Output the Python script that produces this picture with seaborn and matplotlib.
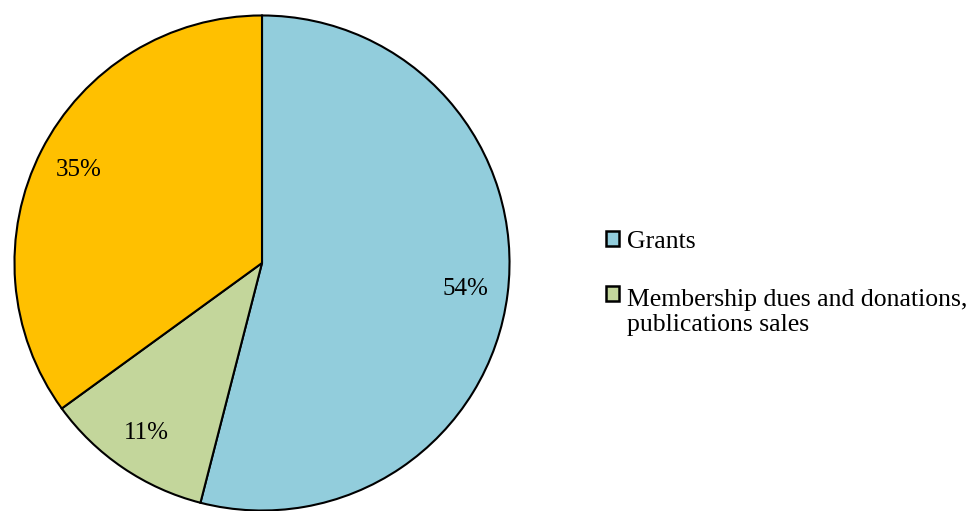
import matplotlib
matplotlib.use("Agg")
import matplotlib.pyplot as plt
import seaborn as sns
from matplotlib.patches import Patch

categories = ["Grants", "Membership dues and donations,\npublications sales", "Other"]
values = [54, 11, 35]
colors = ["#92CDDC", "#C3D69B", "#FFC000"]

sns.set_theme(style="white")
plt.rcParams["font.family"] = ["Liberation Serif", "DejaVu Serif"]
plt.rcParams["text.color"] = "black"

fig = plt.figure(figsize=(9.78, 5.11), dpi=100)
ax = fig.add_axes([12 / 978, -2 / 511, 500 / 978, 500 / 511])
pal = sns.color_palette(colors)
wedges, texts, autotexts = ax.pie(
    values, colors=pal, startangle=90, counterclock=False,
    autopct="%1.0f%%", pctdistance=0.83,
    wedgeprops=dict(edgecolor="black", linewidth=1.5),
    textprops=dict(fontsize=18, color="black"),
)
ax.set_xlim(-1.01, 1.01)
ax.set_ylim(-1.01, 1.01)
ax.set_aspect("equal")

fs = 18.5
handles = [Patch(facecolor=pal[i], edgecolor="black", linewidth=1.8) for i in range(2)]
leg = fig.legend(handles, categories[:2], loc="upper left",
                 bbox_to_anchor=(606 / 978, 1 - 231 / 511), frameon=False,
                 fontsize=fs, handlelength=0.52, handleheight=0.52, handletextpad=0.3,
                 labelspacing=1.4, borderpad=0, borderaxespad=0)
for t in leg.get_texts():
    t.set_color("black")
# align the second handle with the first line of its two-line label
h2 = leg.legend_handles[1]
h2.set_y(h2.get_y() + 0.6 * 1.2 * fs)

fig.savefig("out.png", dpi=100)
